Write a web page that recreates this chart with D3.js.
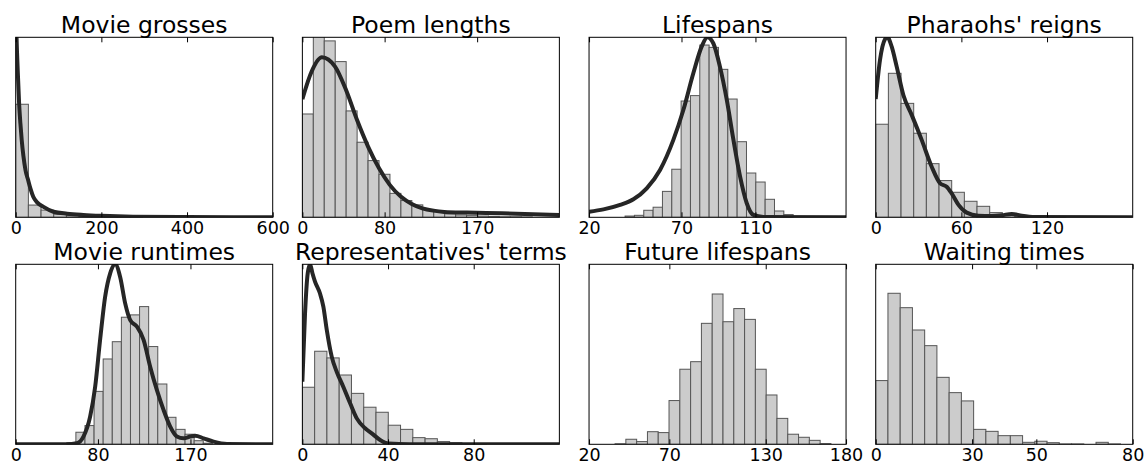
<!DOCTYPE html>
<html>
<head>
<meta charset="utf-8">
<script src="https://cdnjs.cloudflare.com/ajax/libs/d3/7.8.5/d3.min.js"></script>
<style>
  body { margin: 0; background: #fff; }
  svg { display: block; font-family: "DejaVu Sans", sans-serif; }
  .title { font-size: 23.5px; fill: #000; }
  .axis text { font-size: 17.5px; fill: #000; font-family: "DejaVu Sans", sans-serif; }
  .axis path { display: none; }
  .axis line { stroke: #000; stroke-width: 1; }
  .bar { fill: #cccccc; stroke: #555; stroke-width: 1; }
  .kde { fill: none; stroke: #262626; stroke-width: 4; }
  .frame { fill: none; stroke: #000; stroke-width: 1; }
</style>
</head>
<body>
<svg class="chart"></svg>
<script>
var titles = ["Movie grosses", "Poem lengths", "Lifespans", "Pharaohs' reigns",
              "Movie runtimes", "Representatives' terms", "Future lifespans", "Waiting times"];

// x ranges and tick labels per panel
var xDomains = [[0, 600], [0, 250], [20, 159], [0, 180], [0, 250], [0, 120], [20, 180], [0, 80]];
var xTicks = [[0, 200, 400, 600], [0, 80, 170], [20, 70, 110], [0, 60, 120],
              [0, 80, 170], [0, 40, 80], [20, 70, 130, 180], [0, 30, 50, 80]];

// histogram bins: first edge and bin width
var binStarts = [0, 0, 39.5, 0, 49.7, 0, 36.2, 0];
var binWidths = [29.6, 10.65, 5.05, 8.87, 8.85, 5.73, 6.72, 3.81];

// bar heights (percent of the plot height)
var grossesCounts = [62.8, 6.8, 4.0, 1.8, 0.9, 0.5, 0.3, 0.2, 0.15, 0.1];
var poemCounts = [57.4, 104, 98.0, 86.5, 59.1, 41.7, 31.5, 23.9, 13.3, 9.3, 6.9, 4.4, 3.3, 2.0, 1.3, 1.1, 0.7, 0.5, 0.3, 0.3, 0.2];
var lifespanCounts = [0.7, 1.1, 3.9, 5.6, 14.4, 26.7, 64.6, 67.6, 95.7, 94.4, 82.2, 65.7, 42.0, 24.6, 19.6, 10.0, 3.5, 1.5];
var pharaohCounts = [51.7, 80, 63.3, 46.7, 29.8, 20.4, 13.9, 8.9, 6.1, 2.6, 1.3, 0.7, 0.3, 0.2, 0.2];
var runtimeCounts = [0.9, 6.7, 10.4, 29.4, 47.4, 57, 70.6, 71.9, 76.5, 54.3, 33.5, 15, 8.3, 5.6, 2.0, 0.6];
var termsCounts = [31.7, 51.7, 48, 38.5, 28.3, 20.6, 17.8, 10.6, 8.3, 3.7, 3.1, 1.5, 0.9, 0.4, 0.2];
var futureCounts = [0.3, 2.8, 1.5, 7, 6.5, 24.3, 41.7, 45.9, 67.2, 83.5, 68.1, 75.4, 69.4, 41.7, 27.4, 14.4, 5.6, 3.9, 2.2, 0.4];
var waitingCounts = [35.4, 83.9, 75.9, 63.5, 54.8, 37.2, 28.7, 24.1, 8.3, 7.2, 4.8, 4.8, 1.1, 1.7, 0.9, 0.2, 0.2, 0, 1.1, 0.2];

// density curves as [x, percent] points
var grossesCurve = [[0,120],[2,100],[5,80],[8,63],[11,52],[14,43],[18,34],[23,26],[29,20.7],[35,15.5],[41,11.4],[50,8.3],[64,5.9],[88,3.1],[120,2.0],[158,1.3],[200,0.8],[274,0.3],[400,0.1],[600,0]];
var poemCurve = [[0,65.6],[9,81],[19,88.9],[31.8,83.7],[42.5,70.7],[53.2,54],[63.9,39.3],[74.6,27.2],[85,18],[95.7,11.5],[106.4,7.4],[116.7,5],[127.4,3.7],[138.1,3],[160,2.6],[194,2.2],[250,1.3]];
var lifespanCurve = [[20,3.1],[27.8,4.4],[36.8,6.9],[44,10],[51.2,16.1],[58.4,26.3],[65.6,43],[71,59.6],[76.4,80],[80.9,94.8],[84,100],[87.2,96.7],[90.8,83.7],[94.5,65.2],[98.1,43],[101.7,22.6],[105.3,7.8],[108.9,1.3],[114.3,0.2],[159,0]];
var pharaohCurve = [[0,65.7],[3,87.4],[6.5,98.9],[8.2,100],[11.2,94.8],[14.7,83.7],[19.4,67.8],[25.2,56.9],[32.2,43],[39.2,28.1],[45.1,18.9],[49.7,17],[53.2,13.3],[58,6.9],[63.7,2.6],[71.9,0.9],[81.3,0.7],[88.3,1.1],[95.3,1.9],[102.3,0.9],[111.6,0.2],[180,0]];
var runtimeCurve = [[0,0],[49.7,0],[59.4,0.6],[65.9,4.3],[72.4,15.4],[77.3,32],[82.1,58],[87,82],[91.9,95],[96.8,100],[101.6,93],[106.5,78.3],[111.4,69],[117.9,65.4],[124.4,58],[130.8,43.1],[137.3,30.2],[143.8,19.1],[150.3,9.8],[156.8,4.3],[163.3,3.3],[169.8,4.3],[174.7,4.8],[182.8,3.3],[192.5,1.5],[205.5,0.2],[250,0]];
var termsCurve = [[0,34.8],[1.25,72.8],[2.5,95],[3.6,100],[4.7,95],[5.9,90.4],[8.2,83.9],[9.8,76.5],[11.4,63.5],[13.7,48.7],[16,40.4],[19.1,32],[22.3,22.8],[25.4,14.4],[29.3,8.9],[32.4,6.1],[36.3,2.4],[40.2,0.4],[50,0],[120,0]];

var allCounts = [grossesCounts, poemCounts, lifespanCounts, pharaohCounts, runtimeCounts, termsCounts, futureCounts, waitingCounts];
var allCurves = [grossesCurve, poemCurve, lifespanCurve, pharaohCurve, runtimeCurve, termsCurve, null, null];

var width = 1146, height = 464;
var boxW = 257, boxH = 180;
var colLeft = 15.7, colStep = 286.67;
var rowTops = [37.3, 264.3];

var svg = d3.select(".chart").attr("width", width).attr("height", height);

function drawPanel(i) {
  var left = colLeft + (i % 4) * colStep;
  var top = rowTops[Math.floor(i / 4)];
  var x = d3.scaleLinear().domain(xDomains[i]).range([0, boxW]);
  var y = d3.scaleLinear().domain([0, 100]).range([boxH, 0]);

  var g = svg.append("g").attr("transform", "translate(" + left + "," + top + ")");

  g.append("clipPath").attr("id", "clip" + i)
   .append("rect").attr("width", boxW).attr("height", boxH);

  var plot = g.append("g").attr("clip-path", "url(#clip" + i + ")");

  var bins = allCounts[i].map(function(c, k) {
    var x0 = binStarts[i] + k * binWidths[i];
    return {x0: x0, x1: x0 + binWidths[i], h: c};
  });

  plot.selectAll("rect.bar")
      .data(bins)
      .enter().append("rect")
      .attr("class", "bar")
      .attr("x", function(d) { return x(d.x0); })
      .attr("width", function(d) { return x(d.x1) - x(d.x0); })
      .attr("y", function(d) { return y(d.h); })
      .attr("height", function(d) { return boxH - y(d.h); });

  if (allCurves[i]) {
    var line = d3.line()
                 .x(function(d) { return x(d[0]); })
                 .y(function(d) { return y(d[1]); })
                 .curve(d3.curveMonotoneX);
    plot.append("path").datum(allCurves[i]).attr("class", "kde").attr("d", line);
  }

  // ticks point inward, top and bottom
  g.append("g")
   .attr("class", "axis")
   .attr("transform", "translate(0," + boxH + ")")
   .call(d3.axisBottom(x).tickValues(xTicks[i]).tickSizeInner(-5).tickSizeOuter(0).tickPadding(4.5).tickFormat(d3.format("d")));

  g.append("g")
   .attr("class", "axis")
   .call(d3.axisTop(x).tickValues(xTicks[i]).tickSizeInner(-5).tickSizeOuter(0).tickFormat(""));

  g.append("rect").attr("class", "frame").attr("width", boxW).attr("height", boxH);

  g.append("text")
   .attr("class", "title")
   .attr("x", boxW / 2)
   .attr("y", -4.3)
   .attr("text-anchor", "middle")
   .text(titles[i]);
}

for (var i = 0; i < 8; i++) drawPanel(i);
</script>
</body>
</html>
